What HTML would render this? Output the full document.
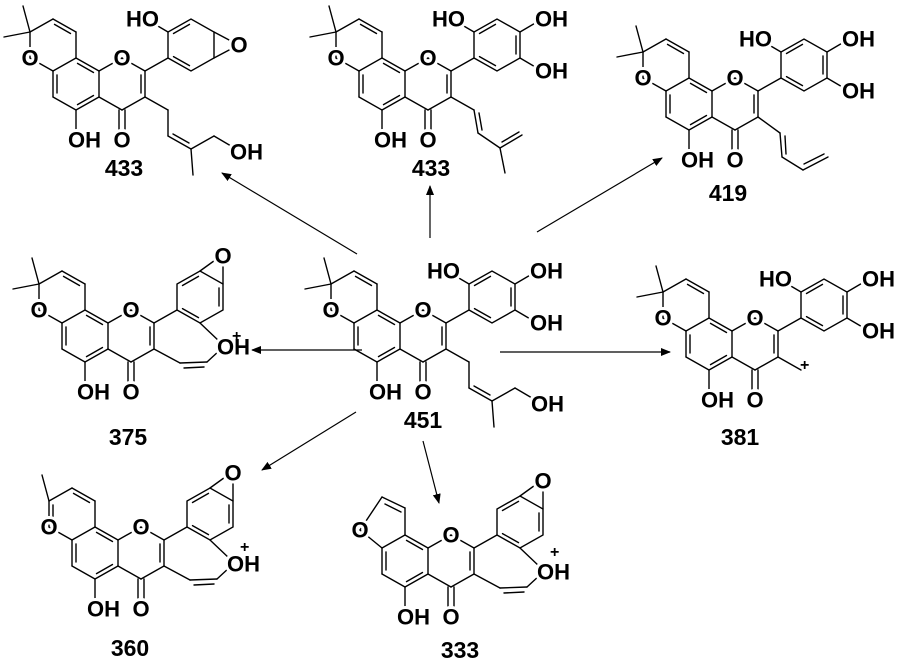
<!DOCTYPE html>
<html><head><meta charset="utf-8"><style>
html,body{margin:0;padding:0;background:#fff;}
svg{display:block;}
.b line,.b polyline{stroke:#000;stroke-width:1.4;fill:none;stroke-linecap:round;}
text{font-family:"Liberation Sans",Arial,sans-serif;font-weight:bold;fill:#000;stroke:none;}
.h text{fill:#fff;stroke:#fff;stroke-width:6;stroke-linejoin:round;}
.a{font-size:22px;dominant-baseline:central;}
.n{font-size:23px;text-anchor:middle;}
.p{font-size:16px;}
</style></head><body>
<svg width="900" height="663" viewBox="0 0 900 663" xmlns="http://www.w3.org/2000/svg">
<defs>
<marker id="ah" markerWidth="10" markerHeight="8" refX="9" refY="4" orient="auto" markerUnits="userSpaceOnUse">
<path d="M0,0 L10,4 L0,8 Z" fill="#000"/></marker>
<g id="pyran" class="b">
<line x1="331" y1="284" x2="354" y2="271"/><line x1="354" y1="271" x2="377" y2="284"/>
<line x1="355.5" y1="276.4" x2="371.5" y2="285.5"/><line x1="377" y1="284" x2="377" y2="310"/>
<line x1="331" y1="284" x2="331" y2="310"/><line x1="331" y1="310" x2="354" y2="323"/>
</g>
<g id="dimethyl" class="b"><line x1="331" y1="284" x2="324" y2="258"/><line x1="331" y1="284" x2="305" y2="289"/></g>
<g id="core" class="b">
<line x1="377" y1="310" x2="400" y2="323"/><line x1="378.5" y1="315.4" x2="394.5" y2="324.5"/>
<line x1="400" y1="323" x2="400" y2="349"/>
<line x1="400" y1="349" x2="377" y2="362"/><line x1="394.5" y1="347.5" x2="378.5" y2="356.6"/>
<line x1="377" y1="362" x2="354" y2="349"/>
<line x1="354" y1="349" x2="354" y2="323"/><line x1="358" y1="327" x2="358" y2="345"/>
<line x1="354" y1="323" x2="377" y2="310"/>
<line x1="400" y1="323" x2="423" y2="310"/><line x1="423" y1="310" x2="446" y2="323"/>
<line x1="446" y1="323" x2="446" y2="349"/><line x1="442" y1="327" x2="442" y2="345"/>
<line x1="446" y1="349" x2="423" y2="362"/><line x1="423" y1="362" x2="400" y2="349"/>
<line x1="420" y1="362" x2="420" y2="385"/><line x1="426" y1="362" x2="426" y2="385"/>
<line x1="377" y1="362" x2="377" y2="382"/>
</g>
<g id="ring" class="b">
<line x1="446" y1="323" x2="469" y2="310"/>
<polyline points="469,310 469,284 492,271 515,284 515,310 492,323 469,310"/>
<line x1="474.5" y1="285.5" x2="490.5" y2="276.4"/>
<line x1="474.5" y1="308.6" x2="490.5" y2="317.6"/>
</g>
<g id="btriol" class="b">
<use href="#ring"/>
<line x1="511" y1="288" x2="511" y2="306"/>
<line x1="469" y1="284" x2="452" y2="274"/><line x1="515" y1="284" x2="532" y2="274"/><line x1="515" y1="310" x2="532" y2="320"/>
</g>
<g id="bcyc" class="b">
<use href="#ring"/>
<line x1="511" y1="288" x2="511" y2="306"/>
<line x1="492" y1="271" x2="510" y2="258"/><line x1="515" y1="284" x2="515" y2="262"/>
<line x1="492" y1="323" x2="512" y2="342"/><line x1="512" y1="350" x2="499" y2="362"/>
<line x1="499" y1="362" x2="472" y2="363"/><line x1="496" y1="367" x2="476" y2="368"/>
<line x1="472" y1="363" x2="446" y2="349"/>
</g>
<g id="chain1" class="b">
<line x1="446" y1="349" x2="469" y2="362"/><line x1="469" y1="362" x2="469" y2="388"/>
<line x1="469" y1="388" x2="492" y2="401"/><line x1="474" y1="386" x2="490" y2="395"/>
<line x1="492" y1="401" x2="515" y2="388"/><line x1="515" y1="388" x2="532" y2="398"/>
<line x1="492" y1="401" x2="494" y2="427"/>
</g>
</defs>

<g stroke="#000" stroke-width="1.2" fill="none">
<line x1="357" y1="254" x2="222" y2="173" marker-end="url(#ah)"/>
<line x1="430" y1="238" x2="430" y2="186" marker-end="url(#ah)"/>
<line x1="537" y1="232" x2="662" y2="158" marker-end="url(#ah)"/>
<line x1="362" y1="350" x2="252" y2="350" marker-end="url(#ah)"/>
<line x1="500" y1="352" x2="670" y2="352" marker-end="url(#ah)"/>
<line x1="356" y1="412" x2="262" y2="470" marker-end="url(#ah)"/>
<line x1="423" y1="441" x2="439" y2="503" marker-end="url(#ah)"/>
</g>

<g>
<use href="#pyran"/><use href="#dimethyl"/><use href="#core"/><use href="#btriol"/><use href="#chain1"/>
<g class="h">
<text class="a" x="331" y="310" text-anchor="middle">O</text>
<text class="a" x="423" y="310" text-anchor="middle">O</text>
<text class="a" x="423" y="392" text-anchor="middle">O</text>
<text class="a" x="369" y="392">OH</text>
<text class="a" x="460" y="271" text-anchor="end">HO</text>
<text class="a" x="530" y="271">OH</text>
<text class="a" x="530" y="323">OH</text>
<text class="a" x="531" y="404">OH</text>
</g>
<text class="a" x="331" y="310" text-anchor="middle">O</text>
<text class="a" x="423" y="310" text-anchor="middle">O</text>
<text class="a" x="423" y="392" text-anchor="middle">O</text>
<text class="a" x="369" y="392">OH</text>
<text class="a" x="460" y="271" text-anchor="end">HO</text>
<text class="a" x="530" y="271">OH</text>
<text class="a" x="530" y="323">OH</text>
<text class="a" x="531" y="404">OH</text>
<text class="n" x="423" y="428">451</text>
</g>

<g transform="translate(-301,-252)">
<use href="#pyran"/><use href="#dimethyl"/><use href="#core"/><use href="#ring"/><use href="#chain1"/>
<g class="b"><line x1="469" y1="284" x2="452" y2="274"/><line x1="515" y1="284" x2="532" y2="293"/><line x1="515" y1="310" x2="532" y2="301"/></g>
<g class="h">
<text class="a" x="331" y="310" text-anchor="middle">O</text>
<text class="a" x="423" y="310" text-anchor="middle">O</text>
<text class="a" x="423" y="392" text-anchor="middle">O</text>
<text class="a" x="369" y="392">OH</text>
<text class="a" x="460" y="271" text-anchor="end">HO</text>
<text class="a" x="540" y="297" text-anchor="middle">O</text>
<text class="a" x="531" y="404">OH</text>
</g>
<text class="a" x="331" y="310" text-anchor="middle">O</text>
<text class="a" x="423" y="310" text-anchor="middle">O</text>
<text class="a" x="423" y="392" text-anchor="middle">O</text>
<text class="a" x="369" y="392">OH</text>
<text class="a" x="460" y="271" text-anchor="end">HO</text>
<text class="a" x="540" y="297" text-anchor="middle">O</text>
<text class="a" x="531" y="404">OH</text>
<text class="n" x="425" y="428">433</text>
</g>

<g transform="translate(5,-252)">
<use href="#pyran"/><use href="#dimethyl"/><use href="#core"/><use href="#btriol"/>
<g class="b"><line x1="446" y1="349" x2="469" y2="362"/><line x1="469" y1="362" x2="473" y2="385"/><line x1="474" y1="365" x2="477" y2="382"/>
<line x1="473" y1="385" x2="495" y2="400"/><line x1="495" y1="400" x2="517" y2="387"/><line x1="497" y1="394" x2="514" y2="384"/><line x1="495" y1="400" x2="500" y2="425"/></g>
<g class="h">
<text class="a" x="331" y="310" text-anchor="middle">O</text>
<text class="a" x="423" y="310" text-anchor="middle">O</text>
<text class="a" x="423" y="392" text-anchor="middle">O</text>
<text class="a" x="369" y="392">OH</text>
<text class="a" x="460" y="271" text-anchor="end">HO</text>
<text class="a" x="530" y="271">OH</text>
<text class="a" x="530" y="323">OH</text>
</g>
<text class="a" x="331" y="310" text-anchor="middle">O</text>
<text class="a" x="423" y="310" text-anchor="middle">O</text>
<text class="a" x="423" y="392" text-anchor="middle">O</text>
<text class="a" x="369" y="392">OH</text>
<text class="a" x="460" y="271" text-anchor="end">HO</text>
<text class="a" x="530" y="271">OH</text>
<text class="a" x="530" y="323">OH</text>
<text class="n" x="426" y="428">433</text>
</g>

<g transform="translate(312,-232)">
<use href="#pyran"/><use href="#dimethyl"/><use href="#core"/><use href="#btriol"/>
<g class="b"><line x1="446" y1="349" x2="468" y2="365"/><line x1="468" y1="365" x2="470" y2="389"/><line x1="473" y1="368" x2="474" y2="386"/>
<line x1="470" y1="389" x2="491" y2="402"/><line x1="491" y1="402" x2="516" y2="389"/><line x1="492" y1="396" x2="512" y2="386"/></g>
<g class="h">
<text class="a" x="331" y="310" text-anchor="middle">O</text>
<text class="a" x="423" y="310" text-anchor="middle">O</text>
<text class="a" x="423" y="392" text-anchor="middle">O</text>
<text class="a" x="369" y="392">OH</text>
<text class="a" x="460" y="271" text-anchor="end">HO</text>
<text class="a" x="530" y="271">OH</text>
<text class="a" x="530" y="323">OH</text>
</g>
<text class="a" x="331" y="310" text-anchor="middle">O</text>
<text class="a" x="423" y="310" text-anchor="middle">O</text>
<text class="a" x="423" y="392" text-anchor="middle">O</text>
<text class="a" x="369" y="392">OH</text>
<text class="a" x="460" y="271" text-anchor="end">HO</text>
<text class="a" x="530" y="271">OH</text>
<text class="a" x="530" y="323">OH</text>
<text class="n" x="416" y="433">419</text>
</g>

<g transform="translate(-292,0)">
<use href="#pyran"/><use href="#dimethyl"/><use href="#core"/><use href="#bcyc"/>
<g class="h">
<text class="a" x="331" y="310" text-anchor="middle">O</text>
<text class="a" x="423" y="310" text-anchor="middle">O</text>
<text class="a" x="423" y="392" text-anchor="middle">O</text>
<text class="a" x="369" y="392">OH</text>
<text class="a" x="515" y="256" text-anchor="middle">O</text>
<text class="a" x="509" y="347">OH</text>
</g>
<text class="a" x="331" y="310" text-anchor="middle">O</text>
<text class="a" x="423" y="310" text-anchor="middle">O</text>
<text class="a" x="423" y="392" text-anchor="middle">O</text>
<text class="a" x="369" y="392">OH</text>
<text class="a" x="515" y="256" text-anchor="middle">O</text>
<text class="a" x="509" y="347">OH</text>
<text class="p" x="524" y="341">+</text>
<text class="n" x="420" y="445">375</text>
</g>

<g transform="translate(332,8)">
<use href="#pyran"/><use href="#dimethyl"/><use href="#core"/><use href="#btriol"/>
<g class="b"><line x1="446" y1="349" x2="469" y2="362"/></g>
<g class="h">
<text class="a" x="331" y="310" text-anchor="middle">O</text>
<text class="a" x="423" y="310" text-anchor="middle">O</text>
<text class="a" x="423" y="392" text-anchor="middle">O</text>
<text class="a" x="369" y="392">OH</text>
<text class="a" x="460" y="271" text-anchor="end">HO</text>
<text class="a" x="530" y="271">OH</text>
<text class="a" x="530" y="323">OH</text>
</g>
<text class="a" x="331" y="310" text-anchor="middle">O</text>
<text class="a" x="423" y="310" text-anchor="middle">O</text>
<text class="a" x="423" y="392" text-anchor="middle">O</text>
<text class="a" x="369" y="392">OH</text>
<text class="a" x="460" y="271" text-anchor="end">HO</text>
<text class="a" x="530" y="271">OH</text>
<text class="a" x="530" y="323">OH</text>
<text class="p" x="468" y="362">+</text>
<text class="n" x="408" y="437">381</text>
</g>

<g transform="translate(-282,217)">
<use href="#pyran"/><use href="#core"/><use href="#bcyc"/>
<g class="b"><line x1="331" y1="284" x2="324" y2="258"/><line x1="335" y1="288" x2="335" y2="304"/></g>
<g class="h">
<text class="a" x="331" y="310" text-anchor="middle">O</text>
<text class="a" x="423" y="310" text-anchor="middle">O</text>
<text class="a" x="423" y="392" text-anchor="middle">O</text>
<text class="a" x="369" y="392">OH</text>
<text class="a" x="515" y="256" text-anchor="middle">O</text>
<text class="a" x="509" y="347">OH</text>
</g>
<text class="a" x="331" y="310" text-anchor="middle">O</text>
<text class="a" x="423" y="310" text-anchor="middle">O</text>
<text class="a" x="423" y="392" text-anchor="middle">O</text>
<text class="a" x="369" y="392">OH</text>
<text class="a" x="515" y="256" text-anchor="middle">O</text>
<text class="a" x="509" y="347">OH</text>
<text class="p" x="522" y="335">+</text>
<text class="n" x="412" y="439">360</text>
</g>

<g transform="translate(28,225)">
<use href="#core"/><use href="#bcyc"/>
<g class="b"><line x1="377" y1="310" x2="377" y2="283"/><line x1="377" y1="283" x2="354" y2="272"/><line x1="373" y1="287" x2="357" y2="279"/>
<line x1="354" y1="272" x2="332" y2="305"/><line x1="332" y1="305" x2="354" y2="323"/></g>
<g class="h">
<text class="a" x="332" y="305" text-anchor="middle">O</text>
<text class="a" x="423" y="310" text-anchor="middle">O</text>
<text class="a" x="423" y="392" text-anchor="middle">O</text>
<text class="a" x="369" y="392">OH</text>
<text class="a" x="515" y="256" text-anchor="middle">O</text>
<text class="a" x="509" y="347">OH</text>
</g>
<text class="a" x="332" y="305" text-anchor="middle">O</text>
<text class="a" x="423" y="310" text-anchor="middle">O</text>
<text class="a" x="423" y="392" text-anchor="middle">O</text>
<text class="a" x="369" y="392">OH</text>
<text class="a" x="515" y="256" text-anchor="middle">O</text>
<text class="a" x="509" y="347">OH</text>
<text class="p" x="522" y="332">+</text>
<text class="n" x="432" y="433">333</text>
</g>
</svg>
</body></html>
